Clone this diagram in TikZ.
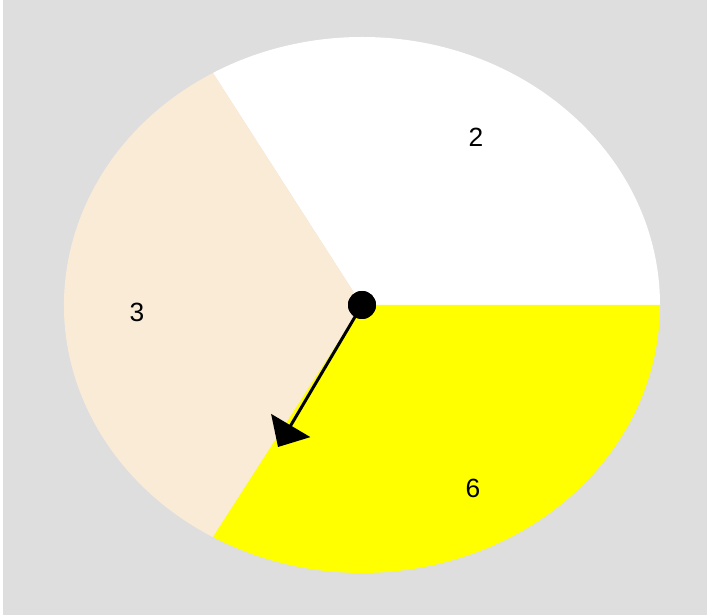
\documentclass[tikz,border=0pt]{standalone}
\usepackage{fontspec}
\setmainfont{Liberation Sans}
\usetikzlibrary{arrows.meta}

\definecolor{bggray}{RGB}{222,222,222}
\definecolor{wedgecream}{RGB}{250,235,215}
\definecolor{wedgeyellow}{RGB}{255,255,0}

\tikzset{
	wedgelabel/.style={font=\fontsize{15}{18}\selectfont, text=black},
	pointer/.style={line width=1.7pt, -{Triangle[length=0.5cm, width=0.9cm]}},
	hub/.style={circle, fill=black, inner sep=0pt, minimum size=0.56cm}
}

\begin{document}
\begin{tikzpicture}[x=0.02cm, y=0.02cm, line cap=round, line join=round]

\useasboundingbox (0,0) rectangle (707,615);
\fill[white] (0,0) rectangle (707,615);
\fill[bggray] (3,0) rectangle (707,615);

\coordinate (C) at (362,310);

% the three wedges
\fill[white] (C) -- ++(298,0)
	arc[start angle=0, end angle=120, x radius=298, y radius=268] -- cycle;
\fill[wedgecream] (C) -- ++(-149,232)
	arc[start angle=120, end angle=240, x radius=298, y radius=268] -- cycle;
\fill[wedgeyellow] (C) -- ++(-149,-232)
	arc[start angle=240, end angle=360, x radius=298, y radius=268] -- cycle;

\node[wedgelabel] (two) at (476,478) {2};
\node[wedgelabel] (three) at (137,303) {3};
\node[wedgelabel] (six) at (473,127) {6};

% spinner
\node[hub] (hub) at (C) {};
\coordinate (tip) at (278,168);
\draw[pointer] (hub.center) -- (tip);
\node[hub] at (C) {};

\end{tikzpicture}
\end{document}
